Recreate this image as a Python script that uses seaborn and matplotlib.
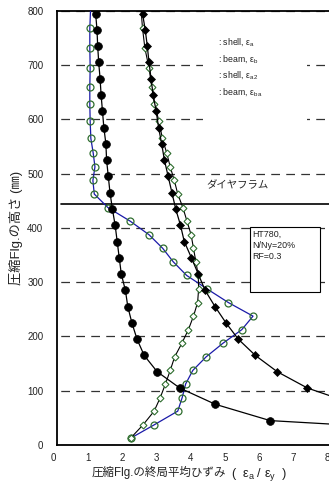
import numpy as np
import pandas as pd
import matplotlib
matplotlib.use('Agg')
import matplotlib.pyplot as plt
import matplotlib.transforms as mtransforms
from matplotlib.patches import Rectangle
import seaborn as sns

# heights (mm) of the beam-model points, top to bottom
h_beam = [795, 765, 735, 705, 675, 645, 615, 585, 555, 525, 495, 465, 435, 405,
          375, 345, 315, 285, 255, 225, 195, 165, 135, 105, 75, 45, 15]
# heights (mm) of the shell-model points, top to bottom
h_shell = [768, 731, 695, 660, 628, 597, 565, 537.5, 512.5, 487.5, 462.5, 437.5,
           412.5, 387.5, 362.5, 337.5, 312.5, 287.5, 262.5, 237.5, 212.5, 187.5,
           162.5, 137.5, 112.5, 87.5, 62.5, 37.5, 12.5]

# filled circles
eps_a = [1.12, 1.16, 1.18, 1.21, 1.25, 1.28, 1.32, 1.36, 1.42, 1.44, 1.49, 1.54,
         1.61, 1.69, 1.75, 1.81, 1.87, 1.99, 2.06, 2.18, 2.33, 2.54, 2.92, 3.58,
         4.62, 6.22, 14.5]
# filled diamonds
eps_b = [2.49, 2.57, 2.63, 2.68, 2.74, 2.80, 2.89, 2.96, 3.05, 3.13, 3.24, 3.35,
         3.46, 3.60, 3.71, 3.92, 4.12, 4.32, 4.61, 4.93, 5.29, 5.79, 6.43, 7.31,
         8.7, 10.3, 12.0]
# open circles (blue line)
eps_a2 = [0.95, 0.95, 0.96, 0.95, 0.95, 0.96, 0.98, 1.05, 1.10, 1.04, 1.08, 1.48,
          2.13, 2.68, 3.08, 3.39, 3.78, 4.38, 5.00, 5.72, 5.39, 4.84, 4.35, 3.96,
          3.75, 3.65, 3.52, 2.84, 2.14]
# open diamonds
eps_ba = [2.49, 2.56, 2.68, 2.76, 2.84, 2.97, 3.07, 3.20, 3.30, 3.42, 3.52, 3.67,
          3.79, 3.91, 3.98, 4.05, 4.12, 4.13, 4.10, 3.98, 3.83, 3.64, 3.43, 3.30,
          3.16, 3.01, 2.83, 2.51, 2.14]
# where the open-marker lines leave the top of the plot (h = 800)
top_h = 800
eps_a2_top = 0.97
eps_ba_top = 2.45

legend_labels = [': shell, ε$_{\\mathrm{a}}$', ': beam, ε$_{\\mathrm{b}}$',
                 ': shell, ε$_{\\mathrm{a2}}$', ': beam, ε$_{\\mathrm{ba}}$']
diaphragm_h = 444
case_text = 'HT780,\nN/Ny=20%\nRF=0.3'

sns.set_theme(style='white')
plt.rcParams['font.family'] = ['Liberation Sans', 'Noto Sans CJK JP', 'DejaVu Sans']
plt.rcParams['mathtext.fontset'] = 'custom'
plt.rcParams['mathtext.rm'] = 'Liberation Sans'

fig = plt.figure(figsize=(3.29, 4.90), dpi=100)
ax = fig.add_axes([0.1742, 0.0918, 0.832, 0.886])

green = '#2f6e2f'
ink = '#222222'


def draw(x, h, mark_from=0, **kw):
    df = pd.DataFrame({'x': x, 'h': h})
    sns.lineplot(data=df, x='x', y='h', sort=False, estimator=None, ax=ax,
                 legend=False, markevery=list(range(mark_from, len(df))), **kw)


draw([eps_a2_top] + eps_a2, [top_h] + h_shell, mark_from=1, color='#1a1aa8', lw=0.9,
     marker='o', ms=5.0, mfc='none', mec=green, mew=0.9, zorder=3)
draw([eps_ba_top] + eps_ba, [top_h] + h_shell, mark_from=1, color='black', lw=0.8,
     marker='D', ms=3.5, mfc='white', mec=green, mew=0.8, zorder=3)
draw(eps_b, h_beam, color='black', lw=0.9, marker='D', ms=4.0, mfc='black',
     mec='black', mew=0.5, zorder=4)
draw(eps_a, h_beam, color='black', lw=0.9, marker='o', ms=5.6, mfc='black',
     mec='black', mew=0.5, zorder=5)

ax.set_xlim(0, 8)
ax.set_ylim(0, 800)
ax.set_xticks(range(0, 9))
ax.set_yticks(range(0, 801, 100))
ax.set_axisbelow(True)
ax.yaxis.grid(True, color='#333333', lw=0.9, linestyle=(9, (7, 5)))
ax.xaxis.grid(False)
for s in ax.spines.values():
    s.set_color('black')
    s.set_linewidth(1.3)
ax.tick_params(direction='in', length=3, width=1, labelsize=7, colors=ink)
ax.tick_params(axis='y', pad=10, length=0)
ax.tick_params(axis='x', pad=6)
shift = mtransforms.ScaledTranslation(-0.035, 0, fig.dpi_scale_trans)
for lab in ax.get_xticklabels():
    lab.set_transform(lab.get_transform() + shift)

ax.axhline(diaphragm_h, xmin=0.015, color='black', lw=1.2, zorder=2)
ax.text(5.26, 479, 'ダイヤフラム', fontsize=7.5, ha='center', va='center', color=ink)

# legend area (symbols not shown in the original)
ax.add_patch(Rectangle((4.27, 586), 3.04, 187, facecolor='white', edgecolor='none', zorder=1))
for i, lab in enumerate(legend_labels):
    ax.text(4.71, 742 - i * 30.5, lab, fontsize=6.3, ha='left', va='center',
            color=ink, zorder=6)

ax.add_patch(Rectangle((5.63, 282), 2.05, 119.5, facecolor='white', edgecolor='black',
                       lw=0.8, zorder=6))
ax.text(5.69, 396, case_text, fontsize=6.4, ha='left', va='top', linespacing=1.3,
        color=ink, zorder=7)

# x label: Japanese part and the strain ratio part drawn separately
ax.set_xlabel('')
xl = ax.text(0.127, -0.0714, '圧縮Flg.の終局平均ひずみ', transform=ax.transAxes,
             fontsize=8.3, ha='left', va='baseline', color=ink)
ax.annotate('(  ε$_{\\mathrm{a}}$ / ε$_{\\mathrm{y}}$  )', xy=(1, 0), xycoords=xl,
            xytext=(3, 1.2), textcoords='offset points', fontsize=9.2,
            ha='left', va='baseline', color=ink)
ax.set_ylabel('圧縮Flg.の高さ (㎜)', fontsize=9.5, color=ink)
ax.yaxis.set_label_coords(-0.125, 0.5)

fig.savefig('out.png', dpi=100)
